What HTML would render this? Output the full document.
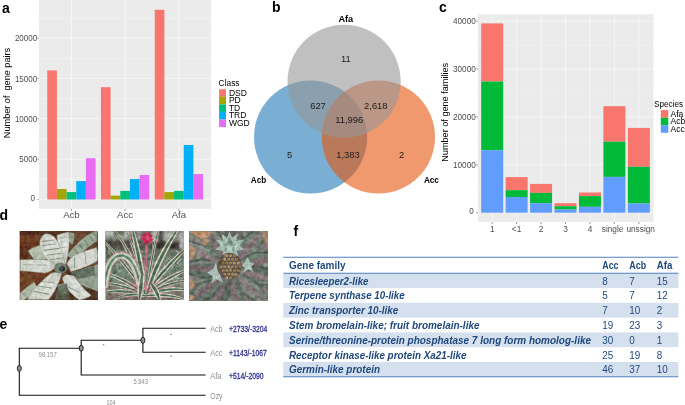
<!DOCTYPE html>
<html lang="en"><head><meta charset="utf-8"><title>Figure</title>
<style>html,body{margin:0;padding:0;background:#fff;}svg{display:block;}text{font-family:"Liberation Sans", Arial, sans-serif;}</style></head><body>
<svg width="685" height="405" viewBox="0 0 685 405">
<rect width="685" height="405" fill="#ffffff"/>
<g id="panel-a">
<rect x="39.0" y="0.0" width="172.0" height="208.8" fill="#ebebeb"/>
<line x1="39.0" x2="211.0" y1="179.20" y2="179.20" stroke="#f5f5f5" stroke-width="0.5"/>
<line x1="39.0" x2="211.0" y1="139.20" y2="139.20" stroke="#f5f5f5" stroke-width="0.5"/>
<line x1="39.0" x2="211.0" y1="98.50" y2="98.50" stroke="#f5f5f5" stroke-width="0.5"/>
<line x1="39.0" x2="211.0" y1="58.30" y2="58.30" stroke="#f5f5f5" stroke-width="0.5"/>
<line x1="39.0" x2="211.0" y1="18.10" y2="18.10" stroke="#f5f5f5" stroke-width="0.5"/>
<line x1="39.0" x2="211.0" y1="199.30" y2="199.30" stroke="#fafafa" stroke-width="0.75"/>
<line x1="37.5" x2="39.0" y1="199.30" y2="199.30" stroke="#555" stroke-width="0.6"/>
<text x="35.1" y="201.00" font-size="8.7" fill="#4d4d4d" text-anchor="end" textLength="4.5" lengthAdjust="spacingAndGlyphs">0</text>
<line x1="39.0" x2="211.0" y1="159.30" y2="159.30" stroke="#fafafa" stroke-width="0.75"/>
<line x1="37.5" x2="39.0" y1="159.30" y2="159.30" stroke="#555" stroke-width="0.6"/>
<text x="37.1" y="162.00" font-size="8.7" fill="#4d4d4d" text-anchor="end" textLength="17.8" lengthAdjust="spacingAndGlyphs">5000</text>
<line x1="39.0" x2="211.0" y1="118.60" y2="118.60" stroke="#fafafa" stroke-width="0.75"/>
<line x1="37.5" x2="39.0" y1="118.60" y2="118.60" stroke="#555" stroke-width="0.6"/>
<text x="37.1" y="121.70" font-size="8.7" fill="#4d4d4d" text-anchor="end" textLength="22.2" lengthAdjust="spacingAndGlyphs">10000</text>
<line x1="39.0" x2="211.0" y1="78.40" y2="78.40" stroke="#fafafa" stroke-width="0.75"/>
<line x1="37.5" x2="39.0" y1="78.40" y2="78.40" stroke="#555" stroke-width="0.6"/>
<text x="37.1" y="81.50" font-size="8.7" fill="#4d4d4d" text-anchor="end" textLength="22.2" lengthAdjust="spacingAndGlyphs">15000</text>
<line x1="39.0" x2="211.0" y1="38.20" y2="38.20" stroke="#fafafa" stroke-width="0.75"/>
<line x1="37.5" x2="39.0" y1="38.20" y2="38.20" stroke="#555" stroke-width="0.6"/>
<text x="37.1" y="41.20" font-size="8.7" fill="#4d4d4d" text-anchor="end" textLength="22.2" lengthAdjust="spacingAndGlyphs">20000</text>
<line x1="71.40" x2="71.40" y1="0.0" y2="208.8" stroke="#fafafa" stroke-width="0.75"/>
<line x1="71.40" x2="71.40" y1="208.8" y2="210.8" stroke="#555" stroke-width="0.6"/>
<line x1="125.10" x2="125.10" y1="0.0" y2="208.8" stroke="#fafafa" stroke-width="0.75"/>
<line x1="125.10" x2="125.10" y1="208.8" y2="210.8" stroke="#555" stroke-width="0.6"/>
<line x1="178.90" x2="178.90" y1="0.0" y2="208.8" stroke="#fafafa" stroke-width="0.75"/>
<line x1="178.90" x2="178.90" y1="208.8" y2="210.8" stroke="#555" stroke-width="0.6"/>
<rect x="47.25" y="70.40" width="9.66" height="129.10" fill="#F8766D"/>
<rect x="56.91" y="189.00" width="9.66" height="10.50" fill="#A3A500"/>
<rect x="66.57" y="192.10" width="9.66" height="7.40" fill="#00BF7D"/>
<rect x="76.23" y="181.10" width="9.66" height="18.40" fill="#00B0F6"/>
<rect x="85.89" y="158.30" width="9.66" height="41.20" fill="#E76BF3"/>
<rect x="100.95" y="87.20" width="9.66" height="112.30" fill="#F8766D"/>
<rect x="110.61" y="195.60" width="9.66" height="3.90" fill="#A3A500"/>
<rect x="120.27" y="190.90" width="9.66" height="8.60" fill="#00BF7D"/>
<rect x="129.93" y="179.00" width="9.66" height="20.50" fill="#00B0F6"/>
<rect x="139.59" y="175.00" width="9.66" height="24.50" fill="#E76BF3"/>
<rect x="154.75" y="9.80" width="9.66" height="189.70" fill="#F8766D"/>
<rect x="164.41" y="192.10" width="9.66" height="7.40" fill="#A3A500"/>
<rect x="174.07" y="190.90" width="9.66" height="8.60" fill="#00BF7D"/>
<rect x="183.73" y="145.00" width="9.66" height="54.50" fill="#00B0F6"/>
<rect x="193.39" y="174.10" width="9.66" height="25.40" fill="#E76BF3"/>
<text x="71.4" y="218.2" font-size="9.6" fill="#4d4d4d" text-anchor="middle">Acb</text>
<text x="125.1" y="218.2" font-size="9.6" fill="#4d4d4d" text-anchor="middle">Acc</text>
<text x="178.9" y="218.2" font-size="9.6" fill="#4d4d4d" text-anchor="middle">Afa</text>
<text transform="translate(10.3,93) rotate(-90)" font-size="9.15" fill="#000" text-anchor="middle" xml:space="preserve">Number of  gene pairs</text>
<text x="218.6" y="85.8" font-size="8.4" fill="#000">Class</text>
<rect x="219.1" y="89.30" width="6.9" height="7.55" fill="#F8766D"/>
<text x="228.9" y="95.80" font-size="8.5" fill="#000">DSD</text>
<rect x="219.1" y="96.85" width="6.9" height="7.55" fill="#A3A500"/>
<text x="228.9" y="103.35" font-size="8.5" fill="#000">PD</text>
<rect x="219.1" y="104.40" width="6.9" height="7.55" fill="#00BF7D"/>
<text x="228.9" y="110.90" font-size="8.5" fill="#000">TD</text>
<rect x="219.1" y="111.95" width="6.9" height="7.55" fill="#00B0F6"/>
<text x="228.9" y="118.45" font-size="8.5" fill="#000">TRD</text>
<rect x="219.1" y="119.50" width="6.9" height="7.55" fill="#E76BF3"/>
<text x="228.9" y="126.00" font-size="8.5" fill="#000">WGD</text>
<text x="2.0" y="12.7" font-size="14" font-weight="bold" fill="#000">a</text>
</g>
<g id="panel-b">
<circle cx="310.6" cy="137" r="56.6" fill="#2a7db8" fill-opacity="0.62"/>
<circle cx="378.4" cy="137" r="56.6" fill="#e6550d" fill-opacity="0.6"/>
<circle cx="344.1" cy="81.3" r="56.6" fill="#969696" fill-opacity="0.6"/>
<text x="345.9" y="61.8" font-size="9.4" fill="#1c1c1c" text-anchor="middle">11</text>
<text x="318.0" y="109.4" font-size="9.4" fill="#1c1c1c" text-anchor="middle">627</text>
<text x="375.8" y="109.4" font-size="9.4" fill="#1c1c1c" text-anchor="middle">2,618</text>
<text x="349.2" y="123.4" font-size="9.4" fill="#1c1c1c" text-anchor="middle">11,996</text>
<text x="289.6" y="157.6" font-size="9.4" fill="#1c1c1c" text-anchor="middle">5</text>
<text x="348.0" y="157.6" font-size="9.4" fill="#1c1c1c" text-anchor="middle">1,383</text>
<text x="401.5" y="157.6" font-size="9.4" fill="#1c1c1c" text-anchor="middle">2</text>
<text x="345.8" y="21.6" font-size="9.2" fill="#000" text-anchor="middle" font-weight="bold">Afa</text>
<text x="258.6" y="183.0" font-size="8.2" fill="#000" text-anchor="middle" font-weight="bold">Acb</text>
<text x="431.4" y="183.0" font-size="8.2" fill="#000" text-anchor="middle" font-weight="bold">Acc</text>
<text x="271.9" y="12" font-size="14" font-weight="bold" fill="#000">b</text>
</g>
<g id="panel-c">
<rect x="478.0" y="14.2" width="175.5" height="207.8" fill="#ebebeb"/>
<line x1="478.0" x2="653.5" y1="188.75" y2="188.75" stroke="#f5f5f5" stroke-width="0.5"/>
<line x1="478.0" x2="653.5" y1="140.85" y2="140.85" stroke="#f5f5f5" stroke-width="0.5"/>
<line x1="478.0" x2="653.5" y1="92.95" y2="92.95" stroke="#f5f5f5" stroke-width="0.5"/>
<line x1="478.0" x2="653.5" y1="45.05" y2="45.05" stroke="#f5f5f5" stroke-width="0.5"/>
<line x1="478.0" x2="653.5" y1="212.70" y2="212.70" stroke="#fafafa" stroke-width="0.75"/>
<line x1="476.3" x2="478.0" y1="212.70" y2="212.70" stroke="#555" stroke-width="0.6"/>
<text x="473.7" y="214.10" font-size="8.8" fill="#4d4d4d" text-anchor="end" textLength="4.5" lengthAdjust="spacingAndGlyphs">0</text>
<line x1="478.0" x2="653.5" y1="164.80" y2="164.80" stroke="#fafafa" stroke-width="0.75"/>
<line x1="476.3" x2="478.0" y1="164.80" y2="164.80" stroke="#555" stroke-width="0.6"/>
<text x="475.8" y="167.60" font-size="8.8" fill="#4d4d4d" text-anchor="end" textLength="22.8" lengthAdjust="spacingAndGlyphs">10000</text>
<line x1="478.0" x2="653.5" y1="116.90" y2="116.90" stroke="#fafafa" stroke-width="0.75"/>
<line x1="476.3" x2="478.0" y1="116.90" y2="116.90" stroke="#555" stroke-width="0.6"/>
<text x="475.8" y="119.70" font-size="8.8" fill="#4d4d4d" text-anchor="end" textLength="22.8" lengthAdjust="spacingAndGlyphs">20000</text>
<line x1="478.0" x2="653.5" y1="69.00" y2="69.00" stroke="#fafafa" stroke-width="0.75"/>
<line x1="476.3" x2="478.0" y1="69.00" y2="69.00" stroke="#555" stroke-width="0.6"/>
<text x="475.8" y="71.80" font-size="8.8" fill="#4d4d4d" text-anchor="end" textLength="22.8" lengthAdjust="spacingAndGlyphs">30000</text>
<line x1="478.0" x2="653.5" y1="21.10" y2="21.10" stroke="#fafafa" stroke-width="0.75"/>
<line x1="476.3" x2="478.0" y1="21.10" y2="21.10" stroke="#555" stroke-width="0.6"/>
<text x="475.8" y="23.90" font-size="8.8" fill="#4d4d4d" text-anchor="end" textLength="22.8" lengthAdjust="spacingAndGlyphs">40000</text>
<line x1="492.20" x2="492.20" y1="14.2" y2="222.0" stroke="#fafafa" stroke-width="0.75"/>
<line x1="492.20" x2="492.20" y1="222.0" y2="224.0" stroke="#555" stroke-width="0.6"/>
<line x1="516.64" x2="516.64" y1="14.2" y2="222.0" stroke="#fafafa" stroke-width="0.75"/>
<line x1="516.64" x2="516.64" y1="222.0" y2="224.0" stroke="#555" stroke-width="0.6"/>
<line x1="541.08" x2="541.08" y1="14.2" y2="222.0" stroke="#fafafa" stroke-width="0.75"/>
<line x1="541.08" x2="541.08" y1="222.0" y2="224.0" stroke="#555" stroke-width="0.6"/>
<line x1="565.52" x2="565.52" y1="14.2" y2="222.0" stroke="#fafafa" stroke-width="0.75"/>
<line x1="565.52" x2="565.52" y1="222.0" y2="224.0" stroke="#555" stroke-width="0.6"/>
<line x1="589.96" x2="589.96" y1="14.2" y2="222.0" stroke="#fafafa" stroke-width="0.75"/>
<line x1="589.96" x2="589.96" y1="222.0" y2="224.0" stroke="#555" stroke-width="0.6"/>
<line x1="614.40" x2="614.40" y1="14.2" y2="222.0" stroke="#fafafa" stroke-width="0.75"/>
<line x1="614.40" x2="614.40" y1="222.0" y2="224.0" stroke="#555" stroke-width="0.6"/>
<line x1="638.84" x2="638.84" y1="14.2" y2="222.0" stroke="#fafafa" stroke-width="0.75"/>
<line x1="638.84" x2="638.84" y1="222.0" y2="224.0" stroke="#555" stroke-width="0.6"/>
<rect x="481.20" y="23.40" width="22.00" height="58.10" fill="#F8766D"/>
<rect x="481.20" y="81.50" width="22.00" height="68.70" fill="#00BA38"/>
<rect x="481.20" y="150.20" width="22.00" height="62.50" fill="#619CFF"/>
<rect x="505.64" y="177.10" width="22.00" height="13.10" fill="#F8766D"/>
<rect x="505.64" y="190.20" width="22.00" height="6.80" fill="#00BA38"/>
<rect x="505.64" y="197.00" width="22.00" height="15.70" fill="#619CFF"/>
<rect x="530.08" y="183.90" width="22.00" height="9.00" fill="#F8766D"/>
<rect x="530.08" y="192.90" width="22.00" height="10.30" fill="#00BA38"/>
<rect x="530.08" y="203.20" width="22.00" height="9.50" fill="#619CFF"/>
<rect x="554.52" y="203.20" width="22.00" height="3.00" fill="#F8766D"/>
<rect x="554.52" y="206.20" width="22.00" height="3.30" fill="#00BA38"/>
<rect x="554.52" y="209.50" width="22.00" height="3.20" fill="#619CFF"/>
<rect x="578.96" y="192.50" width="22.00" height="3.60" fill="#F8766D"/>
<rect x="578.96" y="196.10" width="22.00" height="10.70" fill="#00BA38"/>
<rect x="578.96" y="206.80" width="22.00" height="5.90" fill="#619CFF"/>
<rect x="603.40" y="106.20" width="22.00" height="35.50" fill="#F8766D"/>
<rect x="603.40" y="141.70" width="22.00" height="35.20" fill="#00BA38"/>
<rect x="603.40" y="176.90" width="22.00" height="35.80" fill="#619CFF"/>
<rect x="627.84" y="127.90" width="22.00" height="38.90" fill="#F8766D"/>
<rect x="627.84" y="166.80" width="22.00" height="36.70" fill="#00BA38"/>
<rect x="627.84" y="203.50" width="22.00" height="9.20" fill="#619CFF"/>
<text x="492.2" y="231.7" font-size="8.3" fill="#4d4d4d" text-anchor="middle">1</text>
<text x="516.6" y="231.7" font-size="8.3" fill="#4d4d4d" text-anchor="middle">&lt;1</text>
<text x="541.1" y="231.7" font-size="8.3" fill="#4d4d4d" text-anchor="middle">2</text>
<text x="565.5" y="231.7" font-size="8.3" fill="#4d4d4d" text-anchor="middle">3</text>
<text x="590.0" y="231.7" font-size="8.3" fill="#4d4d4d" text-anchor="middle">4</text>
<text x="612.6" y="231.7" font-size="8.3" fill="#4d4d4d" text-anchor="middle">single</text>
<text x="640.7" y="231.7" font-size="8.3" fill="#4d4d4d" text-anchor="middle">unssign</text>
<text transform="translate(448.1,112.3) rotate(-90)" font-size="9.13" fill="#000" text-anchor="middle">Number of gene families</text>
<text x="654.0" y="107.2" font-size="8.4" fill="#000" textLength="29" lengthAdjust="spacingAndGlyphs">Species</text>
<rect x="660.8" y="110.10" width="7.5" height="7.55" fill="#F8766D"/>
<text x="670.5" y="116.70" font-size="8.5" fill="#000">Afa</text>
<rect x="660.8" y="117.65" width="7.5" height="7.55" fill="#00BA38"/>
<text x="670.5" y="124.25" font-size="8.5" fill="#000">Acb</text>
<rect x="660.8" y="125.20" width="7.5" height="7.55" fill="#619CFF"/>
<text x="670.5" y="131.80" font-size="8.5" fill="#000">Acc</text>
<text x="439.1" y="12" font-size="14" font-weight="bold" fill="#000">c</text>
</g>
<g id="panel-d">
<text x="-0.5" y="220.2" font-size="14" font-weight="bold" fill="#000">d</text>
<defs><filter id="bl" x="-5%" y="-5%" width="110%" height="110%"><feGaussianBlur stdDeviation="2.2"/></filter><filter id="bl2" x="-5%" y="-5%" width="110%" height="110%"><feGaussianBlur stdDeviation="1.4"/></filter><filter id="nzd" x="0" y="0" width="100%" height="100%"><feTurbulence type="fractalNoise" baseFrequency="0.045" numOctaves="3" seed="4"/><feColorMatrix values="0 0 0 0 0  0 0 0 0 0  0 0 0 0 0  0.9 0.9 0 0 -0.62"/></filter><filter id="nzl" x="0" y="0" width="100%" height="100%"><feTurbulence type="fractalNoise" baseFrequency="0.05" numOctaves="3" seed="9"/><feColorMatrix values="0 0 0 0 1  0 0 0 0 1  0 0 0 0 1  0.9 0.9 0 0 -0.68"/></filter></defs>
<svg x="19.6" y="231.1" width="78.4" height="69.0" viewBox="22 25 398 350" preserveAspectRatio="none" overflow="hidden">
<defs><filter id="b1" x="-5%" y="-5%" width="110%" height="110%"><feGaussianBlur stdDeviation="3.5"/></filter><radialGradient id="lg1" cx="235" cy="215" r="200" gradientUnits="userSpaceOnUse"><stop offset="0" stop-color="#9eab98"/><stop offset="0.22" stop-color="#d3d8cd"/><stop offset="0.6" stop-color="#e6e8e1"/><stop offset="1" stop-color="#dadfd4"/></radialGradient></defs>
<rect x="22" y="25" width="398" height="350" fill="#63331a"/>
<g filter="url(#b1)">
<rect x="22" y="25" width="110" height="150" fill="#6a3415"/>
<rect x="22" y="25" width="398" height="22" fill="#4e2812"/>
<rect x="22" y="100" width="60" height="70" fill="#5a2c14"/>
<rect x="22" y="228" width="160" height="100" fill="#6c381a"/>
<rect x="30" y="250" width="60" height="40" fill="#70401f"/>
<rect x="190" y="300" width="230" height="80" fill="#4c2e1d"/>
<rect x="270" y="25" width="150" height="90" fill="#5e3c28"/>
<rect x="300" y="25" width="60" height="40" fill="#6b4128"/>
<path d="M64 125C90 108 115 98 132 98L162 166C140 172 115 172 96 170Z" fill="#bcc7b4" stroke="#8d9b88" stroke-width="3.5" stroke-opacity="0.7"/>
<path d="M25 340C50 315 75 296 97 284L114 325C85 345 60 365 45 374L25 374Z" fill="#b5c1ad" stroke="#8d9b88" stroke-width="3.5" stroke-opacity="0.7"/>
<path d="M300 232C340 220 390 205 420 195L420 330C390 318 350 305 325 292Z" fill="#97a692" stroke="#8d9b88" stroke-width="3.5" stroke-opacity="0.7"/>
<path d="M272 32L298 36C302 60 296 80 290 92L270 82Z" fill="#9aaa90" stroke="#8d9b88" stroke-width="3.5" stroke-opacity="0.7"/>
<path d="M262 150C305 90 365 40 416 22L414 76C372 100 332 138 300 170Z" fill="#a5b39e" stroke="#8d9b88" stroke-width="3.5" stroke-opacity="0.7"/>
<path d="M215 300L250 290L264 342L230 352Z" fill="#a9b5a1" stroke="#8d9b88" stroke-width="3.5" stroke-opacity="0.7"/>
<path d="M232 175C222 120 212 70 212 45L270 28C278 70 272 130 258 190Z" fill="url(#lg1)" stroke="#8d9b88" stroke-width="3.5" stroke-opacity="0.7"/>
<path d="M236 218C200 215 150 170 128 110C118 80 130 50 150 40C175 35 200 50 215 80C235 120 255 170 252 200Z" fill="url(#lg1)" stroke="#8d9b88" stroke-width="3.5" stroke-opacity="0.7"/>
<path d="M262 190C280 150 320 135 412 108C420 130 420 160 415 178C380 200 330 218 282 230Z" fill="url(#lg1)" stroke="#8d9b88" stroke-width="3.5" stroke-opacity="0.7"/>
<path d="M25 172C70 168 130 168 165 172C190 180 205 195 208 205C190 225 170 235 150 238C100 232 60 228 25 226Z" fill="url(#lg1)" stroke="#8d9b88" stroke-width="3.5" stroke-opacity="0.7"/>
<path d="M180 240C200 232 222 232 236 238C225 280 210 320 170 372L62 372C80 330 130 280 180 240Z" fill="url(#lg1)" stroke="#8d9b88" stroke-width="3.5" stroke-opacity="0.7"/>
<path d="M238 262C255 245 280 238 295 242C320 290 350 320 385 350C370 365 345 372 325 374C290 350 255 320 238 262Z" fill="url(#lg1)" stroke="#8d9b88" stroke-width="3.5" stroke-opacity="0.7"/>
<line x1="132" y1="78" x2="196" y2="70" stroke="#6f8569" stroke-width="5" opacity="0.75"/>
<line x1="136" y1="98" x2="210" y2="90" stroke="#6f8569" stroke-width="5" opacity="0.75"/>
<line x1="146" y1="122" x2="224" y2="113" stroke="#6f8569" stroke-width="6" opacity="0.75"/>
<line x1="156" y1="148" x2="234" y2="138" stroke="#6f8569" stroke-width="5" opacity="0.75"/>
<line x1="172" y1="172" x2="246" y2="160" stroke="#6f8569" stroke-width="5" opacity="0.75"/>
<line x1="96" y1="330" x2="172" y2="346" stroke="#6f8569" stroke-width="6" opacity="0.75"/>
<line x1="108" y1="302" x2="186" y2="314" stroke="#6f8569" stroke-width="5" opacity="0.75"/>
<line x1="130" y1="280" x2="200" y2="288" stroke="#6f8569" stroke-width="4" opacity="0.75"/>
<line x1="300" y1="158" x2="302" y2="214" stroke="#6f8569" stroke-width="5" opacity="0.75"/>
<line x1="352" y1="125" x2="360" y2="190" stroke="#6f8569" stroke-width="4" opacity="0.75"/>
<line x1="299" y1="114" x2="321" y2="142" stroke="#6f8569" stroke-width="9" opacity="0.75"/>
<line x1="324" y1="91" x2="346" y2="119" stroke="#6f8569" stroke-width="9" opacity="0.75"/>
<line x1="349" y1="70" x2="371" y2="98" stroke="#6f8569" stroke-width="9" opacity="0.75"/>
<line x1="374" y1="48" x2="396" y2="76" stroke="#6f8569" stroke-width="9" opacity="0.75"/>
<line x1="394" y1="32" x2="416" y2="60" stroke="#6f8569" stroke-width="9" opacity="0.75"/>
<line x1="40" y1="195" x2="160" y2="198" stroke="#6f8569" stroke-width="3" opacity="0.75"/>
<line x1="255" y1="300" x2="330" y2="340" stroke="#6f8569" stroke-width="4" opacity="0.75"/>
<line x1="225" y1="60" x2="262" y2="55" stroke="#6f8569" stroke-width="3" opacity="0.75"/>
<line x1="228" y1="110" x2="266" y2="104" stroke="#6f8569" stroke-width="3" opacity="0.75"/>
<path d="M285 232L400 205L405 250L320 268Z" fill="#4f5d50" opacity="0.75"/>
<path d="M215 305L262 290L275 372L205 372Z" fill="#55604f" opacity="0.8"/>
<ellipse cx="230" cy="212" rx="34" ry="27" fill="#73836f"/>
<ellipse cx="238" cy="216" rx="16" ry="14" fill="#2c3630"/>
<path d="M258 228Q296 236 300 252L268 246Z" fill="#36362c"/>
</g><rect x="22" y="25" width="398" height="350" filter="url(#nzd)" opacity="0.25"/><rect x="22" y="25" width="398" height="350" filter="url(#nzl)" opacity="0.25"/></svg>
<svg x="105.3" y="231.1" width="78.6" height="69.0" viewBox="25 25 397 352" preserveAspectRatio="none" overflow="hidden">
<defs><linearGradient id="g2" x1="0" y1="0" x2="0" y2="1"><stop offset="0" stop-color="#6d6b65"/><stop offset="0.2" stop-color="#56534c"/><stop offset="0.30" stop-color="#667060"/><stop offset="0.6" stop-color="#6f8a76"/><stop offset="0.8" stop-color="#7c8674"/><stop offset="1" stop-color="#7d6b66"/></linearGradient><filter id="b2" x="-5%" y="-5%" width="110%" height="110%"><feGaussianBlur stdDeviation="5"/></filter><filter id="b2s" x="-5%" y="-5%" width="110%" height="110%"><feGaussianBlur stdDeviation="1.8"/></filter></defs>
<rect x="25" y="25" width="397" height="352" fill="url(#g2)"/>
<g filter="url(#b2)">
<rect x="25" y="25" width="45" height="22" fill="#cfd5cf"/>
<rect x="25" y="45" width="120" height="25" fill="#8d9688"/>
<rect x="70" y="25" width="50" height="25" fill="#66745f"/>
<rect x="120" y="25" width="35" height="45" fill="#bdbdb9"/>
<rect x="152" y="25" width="30" height="75" fill="#4b4a46"/>
<rect x="182" y="25" width="25" height="50" fill="#9a9a96"/>
<rect x="255" y="25" width="38" height="55" fill="#c5c7c4"/>
<rect x="293" y="25" width="25" height="85" fill="#444440"/>
<rect x="320" y="25" width="50" height="45" fill="#b8bab6"/>
<rect x="372" y="25" width="50" height="60" fill="#8c8e8a"/>
<rect x="25" y="68" width="130" height="42" fill="#4d463d"/>
<rect x="182" y="70" width="30" height="40" fill="#5a5650"/>
<rect x="255" y="80" width="167" height="34" fill="#2f2a25"/>
<rect x="402" y="30" width="20" height="85" fill="#d2d2ce"/>
<rect x="330" y="68" width="60" height="16" fill="#77706a"/>
</g><g filter="url(#b2s)" opacity="0.85">
<line x1="205" y1="219" x2="230" y2="221" stroke="#4d6350" stroke-width="5" stroke-linecap="round"/>
<line x1="378" y1="232" x2="373" y2="210" stroke="#4d6350" stroke-width="5" stroke-linecap="round"/>
<line x1="355" y1="127" x2="364" y2="151" stroke="#3f5443" stroke-width="4" stroke-linecap="round"/>
<line x1="142" y1="116" x2="152" y2="135" stroke="#a9bdac" stroke-width="5" stroke-linecap="round"/>
<line x1="53" y1="257" x2="74" y2="262" stroke="#b9c9ba" stroke-width="6" stroke-linecap="round"/>
<line x1="25" y1="154" x2="-4" y2="138" stroke="#d5dcd0" stroke-width="4" stroke-linecap="round"/>
<line x1="250" y1="152" x2="256" y2="139" stroke="#d5dcd0" stroke-width="5" stroke-linecap="round"/>
<line x1="72" y1="161" x2="98" y2="145" stroke="#4d6350" stroke-width="5" stroke-linecap="round"/>
<line x1="100" y1="209" x2="107" y2="188" stroke="#d5dcd0" stroke-width="3" stroke-linecap="round"/>
<line x1="410" y1="264" x2="426" y2="273" stroke="#d5dcd0" stroke-width="6" stroke-linecap="round"/>
<line x1="83" y1="197" x2="92" y2="226" stroke="#d5dcd0" stroke-width="3" stroke-linecap="round"/>
<line x1="61" y1="223" x2="78" y2="236" stroke="#3f5443" stroke-width="3" stroke-linecap="round"/>
<line x1="258" y1="269" x2="280" y2="253" stroke="#5f7a63" stroke-width="6" stroke-linecap="round"/>
<line x1="350" y1="161" x2="372" y2="185" stroke="#c9d4c6" stroke-width="5" stroke-linecap="round"/>
<line x1="44" y1="135" x2="43" y2="106" stroke="#d5dcd0" stroke-width="4" stroke-linecap="round"/>
<line x1="352" y1="225" x2="367" y2="201" stroke="#a9bdac" stroke-width="3" stroke-linecap="round"/>
<line x1="215" y1="236" x2="244" y2="221" stroke="#b9c9ba" stroke-width="3" stroke-linecap="round"/>
<line x1="137" y1="213" x2="121" y2="208" stroke="#3f5443" stroke-width="6" stroke-linecap="round"/>
<line x1="81" y1="121" x2="89" y2="148" stroke="#b9c9ba" stroke-width="3" stroke-linecap="round"/>
<line x1="278" y1="204" x2="291" y2="211" stroke="#8fa892" stroke-width="5" stroke-linecap="round"/>
<line x1="382" y1="251" x2="410" y2="235" stroke="#8fa892" stroke-width="3" stroke-linecap="round"/>
<line x1="213" y1="129" x2="191" y2="120" stroke="#b9c9ba" stroke-width="5" stroke-linecap="round"/>
<line x1="177" y1="223" x2="192" y2="253" stroke="#d5dcd0" stroke-width="5" stroke-linecap="round"/>
<line x1="179" y1="251" x2="173" y2="221" stroke="#a9bdac" stroke-width="5" stroke-linecap="round"/>
<line x1="34" y1="292" x2="48" y2="315" stroke="#3f5443" stroke-width="4" stroke-linecap="round"/>
<line x1="29" y1="171" x2="22" y2="155" stroke="#8fa892" stroke-width="5" stroke-linecap="round"/>
<line x1="200" y1="280" x2="217" y2="288" stroke="#d5dcd0" stroke-width="5" stroke-linecap="round"/>
<line x1="325" y1="152" x2="347" y2="128" stroke="#c9d4c6" stroke-width="3" stroke-linecap="round"/>
<line x1="222" y1="270" x2="242" y2="244" stroke="#5f7a63" stroke-width="5" stroke-linecap="round"/>
<line x1="70" y1="202" x2="79" y2="183" stroke="#3f5443" stroke-width="5" stroke-linecap="round"/>
<line x1="309" y1="271" x2="300" y2="242" stroke="#5f7a63" stroke-width="6" stroke-linecap="round"/>
<line x1="41" y1="246" x2="36" y2="217" stroke="#b9c9ba" stroke-width="5" stroke-linecap="round"/>
<line x1="186" y1="150" x2="210" y2="167" stroke="#a9bdac" stroke-width="4" stroke-linecap="round"/>
<line x1="275" y1="236" x2="282" y2="219" stroke="#3f5443" stroke-width="4" stroke-linecap="round"/>
<line x1="309" y1="255" x2="307" y2="236" stroke="#8fa892" stroke-width="5" stroke-linecap="round"/>
<line x1="401" y1="208" x2="371" y2="199" stroke="#c9d4c6" stroke-width="3" stroke-linecap="round"/>
<line x1="395" y1="249" x2="417" y2="233" stroke="#b9c9ba" stroke-width="4" stroke-linecap="round"/>
<line x1="251" y1="278" x2="268" y2="261" stroke="#c9d4c6" stroke-width="3" stroke-linecap="round"/>
<line x1="369" y1="263" x2="352" y2="254" stroke="#d5dcd0" stroke-width="6" stroke-linecap="round"/>
<line x1="413" y1="214" x2="391" y2="191" stroke="#b9c9ba" stroke-width="4" stroke-linecap="round"/>
<line x1="58" y1="197" x2="81" y2="193" stroke="#b9c9ba" stroke-width="4" stroke-linecap="round"/>
<line x1="369" y1="194" x2="379" y2="220" stroke="#4d6350" stroke-width="4" stroke-linecap="round"/>
<line x1="422" y1="282" x2="445" y2="281" stroke="#3f5443" stroke-width="5" stroke-linecap="round"/>
<line x1="299" y1="255" x2="329" y2="260" stroke="#4d6350" stroke-width="5" stroke-linecap="round"/>
<line x1="360" y1="219" x2="374" y2="191" stroke="#c9d4c6" stroke-width="4" stroke-linecap="round"/>
<line x1="81" y1="216" x2="93" y2="197" stroke="#a9bdac" stroke-width="5" stroke-linecap="round"/>
<line x1="265" y1="120" x2="264" y2="90" stroke="#a9bdac" stroke-width="4" stroke-linecap="round"/>
<line x1="189" y1="292" x2="168" y2="281" stroke="#4d6350" stroke-width="4" stroke-linecap="round"/>
<line x1="383" y1="288" x2="390" y2="274" stroke="#d5dcd0" stroke-width="5" stroke-linecap="round"/>
<line x1="392" y1="139" x2="380" y2="126" stroke="#c9d4c6" stroke-width="3" stroke-linecap="round"/>
<line x1="138" y1="249" x2="153" y2="230" stroke="#a9bdac" stroke-width="6" stroke-linecap="round"/>
<line x1="273" y1="248" x2="250" y2="233" stroke="#4d6350" stroke-width="5" stroke-linecap="round"/>
<line x1="368" y1="214" x2="385" y2="195" stroke="#4d6350" stroke-width="4" stroke-linecap="round"/>
<line x1="319" y1="265" x2="302" y2="255" stroke="#c9d4c6" stroke-width="4" stroke-linecap="round"/>
<line x1="421" y1="279" x2="445" y2="263" stroke="#5f7a63" stroke-width="4" stroke-linecap="round"/>
<line x1="198" y1="289" x2="216" y2="287" stroke="#b9c9ba" stroke-width="3" stroke-linecap="round"/>
<line x1="251" y1="181" x2="276" y2="191" stroke="#8fa892" stroke-width="5" stroke-linecap="round"/>
<line x1="67" y1="122" x2="92" y2="119" stroke="#4d6350" stroke-width="4" stroke-linecap="round"/>
<line x1="71" y1="147" x2="92" y2="130" stroke="#b9c9ba" stroke-width="3" stroke-linecap="round"/>
<line x1="108" y1="184" x2="102" y2="167" stroke="#d5dcd0" stroke-width="4" stroke-linecap="round"/>
<line x1="319" y1="190" x2="336" y2="173" stroke="#b9c9ba" stroke-width="4" stroke-linecap="round"/>
<line x1="59" y1="271" x2="77" y2="244" stroke="#c9d4c6" stroke-width="5" stroke-linecap="round"/>
<line x1="415" y1="264" x2="438" y2="281" stroke="#4d6350" stroke-width="5" stroke-linecap="round"/>
<line x1="186" y1="281" x2="202" y2="256" stroke="#4d6350" stroke-width="4" stroke-linecap="round"/>
<line x1="312" y1="128" x2="318" y2="115" stroke="#8fa892" stroke-width="6" stroke-linecap="round"/>
<line x1="383" y1="124" x2="400" y2="135" stroke="#c9d4c6" stroke-width="5" stroke-linecap="round"/>
<line x1="422" y1="234" x2="451" y2="217" stroke="#b9c9ba" stroke-width="3" stroke-linecap="round"/>
<line x1="68" y1="159" x2="97" y2="163" stroke="#d5dcd0" stroke-width="3" stroke-linecap="round"/>
<line x1="128" y1="166" x2="148" y2="175" stroke="#a9bdac" stroke-width="5" stroke-linecap="round"/>
<line x1="346" y1="129" x2="361" y2="125" stroke="#4d6350" stroke-width="4" stroke-linecap="round"/>
<line x1="410" y1="273" x2="433" y2="271" stroke="#3f5443" stroke-width="4" stroke-linecap="round"/>
<line x1="138" y1="236" x2="134" y2="208" stroke="#5f7a63" stroke-width="3" stroke-linecap="round"/>
<line x1="332" y1="223" x2="322" y2="197" stroke="#b9c9ba" stroke-width="6" stroke-linecap="round"/>
<line x1="322" y1="124" x2="327" y2="110" stroke="#c9d4c6" stroke-width="4" stroke-linecap="round"/>
<line x1="215" y1="295" x2="240" y2="315" stroke="#3f5443" stroke-width="3" stroke-linecap="round"/>
<line x1="406" y1="160" x2="395" y2="141" stroke="#a9bdac" stroke-width="4" stroke-linecap="round"/>
<line x1="46" y1="213" x2="68" y2="197" stroke="#3f5443" stroke-width="5" stroke-linecap="round"/>
<line x1="320" y1="266" x2="334" y2="256" stroke="#3f5443" stroke-width="3" stroke-linecap="round"/>
<line x1="379" y1="260" x2="373" y2="242" stroke="#c9d4c6" stroke-width="5" stroke-linecap="round"/>
<line x1="324" y1="150" x2="350" y2="170" stroke="#b9c9ba" stroke-width="5" stroke-linecap="round"/>
<line x1="29" y1="163" x2="46" y2="157" stroke="#5f7a63" stroke-width="3" stroke-linecap="round"/>
<line x1="59" y1="240" x2="81" y2="237" stroke="#3f5443" stroke-width="4" stroke-linecap="round"/>
<line x1="370" y1="263" x2="401" y2="268" stroke="#c9d4c6" stroke-width="4" stroke-linecap="round"/>
<line x1="322" y1="187" x2="346" y2="168" stroke="#8fa892" stroke-width="4" stroke-linecap="round"/>
<line x1="326" y1="268" x2="344" y2="287" stroke="#3f5443" stroke-width="6" stroke-linecap="round"/>
<line x1="56" y1="130" x2="52" y2="103" stroke="#5f7a63" stroke-width="5" stroke-linecap="round"/>
<line x1="29" y1="172" x2="42" y2="148" stroke="#3f5443" stroke-width="5" stroke-linecap="round"/>
<line x1="301" y1="167" x2="323" y2="150" stroke="#8fa892" stroke-width="6" stroke-linecap="round"/>
<line x1="383" y1="242" x2="412" y2="260" stroke="#3f5443" stroke-width="4" stroke-linecap="round"/>
<line x1="184" y1="288" x2="165" y2="277" stroke="#8fa892" stroke-width="3" stroke-linecap="round"/>
<line x1="294" y1="223" x2="281" y2="205" stroke="#4d6350" stroke-width="6" stroke-linecap="round"/>
<line x1="248" y1="148" x2="236" y2="140" stroke="#b9c9ba" stroke-width="5" stroke-linecap="round"/>
<line x1="250" y1="294" x2="264" y2="288" stroke="#5f7a63" stroke-width="5" stroke-linecap="round"/>
<line x1="58" y1="130" x2="71" y2="121" stroke="#4d6350" stroke-width="3" stroke-linecap="round"/>
<line x1="349" y1="193" x2="332" y2="166" stroke="#8fa892" stroke-width="5" stroke-linecap="round"/>
<line x1="182" y1="177" x2="171" y2="155" stroke="#a9bdac" stroke-width="5" stroke-linecap="round"/>
<line x1="388" y1="191" x2="409" y2="168" stroke="#d5dcd0" stroke-width="6" stroke-linecap="round"/>
<line x1="378" y1="292" x2="404" y2="282" stroke="#a9bdac" stroke-width="4" stroke-linecap="round"/>
<line x1="192" y1="142" x2="175" y2="137" stroke="#c9d4c6" stroke-width="4" stroke-linecap="round"/>
<line x1="235" y1="166" x2="255" y2="167" stroke="#4d6350" stroke-width="5" stroke-linecap="round"/>
<line x1="96" y1="127" x2="128" y2="130" stroke="#b9c9ba" stroke-width="4" stroke-linecap="round"/>
<line x1="103" y1="181" x2="126" y2="176" stroke="#c9d4c6" stroke-width="4" stroke-linecap="round"/>
<line x1="380" y1="189" x2="393" y2="166" stroke="#3f5443" stroke-width="6" stroke-linecap="round"/>
<line x1="217" y1="189" x2="232" y2="183" stroke="#c9d4c6" stroke-width="4" stroke-linecap="round"/>
<line x1="111" y1="140" x2="133" y2="119" stroke="#5f7a63" stroke-width="5" stroke-linecap="round"/>
<line x1="48" y1="286" x2="65" y2="259" stroke="#3f5443" stroke-width="5" stroke-linecap="round"/>
<line x1="308" y1="227" x2="324" y2="214" stroke="#5f7a63" stroke-width="6" stroke-linecap="round"/>
<line x1="347" y1="139" x2="366" y2="125" stroke="#b9c9ba" stroke-width="3" stroke-linecap="round"/>
<line x1="331" y1="115" x2="351" y2="93" stroke="#a9bdac" stroke-width="4" stroke-linecap="round"/>
<line x1="269" y1="213" x2="255" y2="187" stroke="#5f7a63" stroke-width="3" stroke-linecap="round"/>
<line x1="100" y1="151" x2="120" y2="140" stroke="#b9c9ba" stroke-width="5" stroke-linecap="round"/>
<line x1="234" y1="144" x2="241" y2="130" stroke="#5f7a63" stroke-width="6" stroke-linecap="round"/>
<line x1="81" y1="239" x2="107" y2="225" stroke="#a9bdac" stroke-width="5" stroke-linecap="round"/>
<line x1="30" y1="185" x2="17" y2="163" stroke="#3f5443" stroke-width="5" stroke-linecap="round"/>
<line x1="365" y1="271" x2="379" y2="262" stroke="#d5dcd0" stroke-width="6" stroke-linecap="round"/>
<line x1="323" y1="292" x2="335" y2="282" stroke="#c9d4c6" stroke-width="4" stroke-linecap="round"/>
<line x1="315" y1="176" x2="327" y2="150" stroke="#8fa892" stroke-width="4" stroke-linecap="round"/>
<line x1="177" y1="134" x2="187" y2="148" stroke="#c9d4c6" stroke-width="4" stroke-linecap="round"/>
<line x1="357" y1="225" x2="372" y2="216" stroke="#a9bdac" stroke-width="4" stroke-linecap="round"/>
<line x1="331" y1="178" x2="342" y2="166" stroke="#c9d4c6" stroke-width="5" stroke-linecap="round"/>
<line x1="351" y1="186" x2="357" y2="173" stroke="#d5dcd0" stroke-width="5" stroke-linecap="round"/>
<line x1="151" y1="261" x2="171" y2="276" stroke="#5f7a63" stroke-width="4" stroke-linecap="round"/>
<line x1="175" y1="209" x2="186" y2="196" stroke="#5f7a63" stroke-width="5" stroke-linecap="round"/>
<line x1="308" y1="298" x2="339" y2="296" stroke="#c9d4c6" stroke-width="5" stroke-linecap="round"/>
<line x1="36" y1="237" x2="20" y2="219" stroke="#d5dcd0" stroke-width="5" stroke-linecap="round"/>
<line x1="156" y1="287" x2="162" y2="271" stroke="#4d6350" stroke-width="4" stroke-linecap="round"/>
<line x1="388" y1="146" x2="405" y2="134" stroke="#4d6350" stroke-width="3" stroke-linecap="round"/>
</g><g filter="url(#b2s)">
<path d="M230 342Q103 296 -35 347Q103 334 226 358Z" fill="#d08591"/>
<path d="M230 343Q103 299 -35 347Q103 331 226 357Z" fill="#e6e8da"/>
<path d="M229 347Q103 307 -35 347Q103 323 227 353Z" fill="#4a7250"/>
<path d="M231 358Q357 320 480 334Q355 282 225 342Z" fill="#d08591"/>
<path d="M231 357Q357 317 480 334Q355 285 225 343Z" fill="#e6e8da"/>
<path d="M229 353Q356 309 480 334Q356 293 227 347Z" fill="#4a7250"/>
<path d="M231 344Q119 276 -35 285Q111 308 225 356Z" fill="#d08591"/>
<path d="M231 345Q119 278 -35 285Q111 306 225 355Z" fill="#e6e8da"/>
<path d="M229 347Q117 285 -35 285Q113 299 227 353Z" fill="#4a7250"/>
<path d="M232 356Q350 297 480 274Q340 265 224 344Z" fill="#d08591"/>
<path d="M231 355Q349 294 480 274Q341 268 225 345Z" fill="#e6e8da"/>
<path d="M230 353Q347 288 480 274Q343 274 226 347Z" fill="#4a7250"/>
<path d="M233 344Q110 233 -35 226Q96 263 223 356Z" fill="#d08591"/>
<path d="M232 345Q109 235 -35 226Q97 261 224 355Z" fill="#e6e8da"/>
<path d="M230 348Q106 242 -35 226Q100 254 226 352Z" fill="#4a7250"/>
<path d="M233 356Q365 261 480 207Q347 227 223 344Z" fill="#d08591"/>
<path d="M232 355Q364 259 480 207Q348 229 224 345Z" fill="#e6e8da"/>
<path d="M230 353Q360 251 480 207Q352 237 226 347Z" fill="#4a7250"/>
<path d="M233 342Q127 156 -35 26Q103 176 223 348Z" fill="#d08591"/>
<path d="M232 342Q125 158 -35 26Q105 174 224 348Z" fill="#e6e8da"/>
<path d="M230 344Q120 162 -35 26Q110 170 226 346Z" fill="#4a7250"/>
<path d="M234 343Q186 136 29 -41Q158 150 222 347Z" fill="#d08591"/>
<path d="M233 344Q183 137 29 -41Q161 149 223 346Z" fill="#e6e8da"/>
<path d="M231 344Q178 140 29 -41Q166 146 225 346Z" fill="#4a7250"/>
<path d="M234 348Q324 172 376 16Q296 160 222 342Z" fill="#d08591"/>
<path d="M233 347Q322 171 376 16Q298 161 223 343Z" fill="#e6e8da"/>
<path d="M230 346Q316 169 376 16Q304 163 226 344Z" fill="#4a7250"/>
<path d="M235 350Q361 199 480 72Q329 169 221 340Z" fill="#d08591"/>
<path d="M234 350Q359 197 480 72Q331 171 222 340Z" fill="#e6e8da"/>
<path d="M231 347Q352 190 480 72Q338 178 225 343Z" fill="#4a7250"/>
<path d="M227 344Q215 162 92 -67Q189 170 217 346Z" fill="#d08591"/>
<path d="M226 345Q212 163 92 -67Q192 169 218 345Z" fill="#e6e8da"/>
<path d="M224 345Q207 165 92 -67Q197 167 220 345Z" fill="#4a7250"/>
<path d="M239 346Q271 157 309 -54Q245 153 229 344Z" fill="#d08591"/>
<path d="M238 346Q268 157 309 -54Q248 153 230 344Z" fill="#e6e8da"/>
<path d="M236 345Q263 156 309 -54Q253 154 232 345Z" fill="#4a7250"/>
<path d="M237 344Q225 150 140 -69Q175 160 215 346Z" fill="#d08591"/>
<path d="M235 344Q222 150 140 -69Q178 160 217 346Z" fill="#e6e8da"/>
<path d="M231 344Q211 153 140 -69Q189 157 221 346Z" fill="#4a7250"/>
<path d="M246 348Q318 143 451 -69Q272 121 226 342Z" fill="#d08591"/>
<path d="M245 348Q315 142 451 -69Q275 122 227 342Z" fill="#e6e8da"/>
<path d="M241 346Q305 137 451 -69Q285 127 231 344Z" fill="#4a7250"/>
<path d="M230 348Q148 316 46 383Q150 348 226 362Z" fill="#d08591"/>
<path d="M230 349Q148 319 46 383Q150 345 226 361Z" fill="#e6e8da"/>
<path d="M229 352Q148 325 46 383Q150 339 227 358Z" fill="#4a7250"/>
<path d="M229 362Q343 357 454 383Q347 323 227 348Z" fill="#d08591"/>
<path d="M229 361Q343 354 454 383Q347 326 227 349Z" fill="#e6e8da"/>
<path d="M228 358Q344 347 454 383Q346 333 228 352Z" fill="#4a7250"/>
<path d="M205 318Q170 130 88 152Q34 176 22 300" fill="none" stroke="#c9707e" stroke-width="40" stroke-linecap="round"/>
<path d="M205 318Q170 130 88 152Q34 176 22 300" fill="none" stroke="#d6e1d2" stroke-width="34" stroke-linecap="round"/>
<path d="M205 318Q170 130 88 152Q34 176 22 300" fill="none" stroke="#5f8a66" stroke-width="10" stroke-linecap="round"/>
<path d="M234 90L228 225" stroke="#de6f8c" stroke-width="12" fill="none"/>
<path d="M231 135L227 205" stroke="#8d6a9c" stroke-width="5" fill="none"/>
<polygon points="232,26 240,40 252,30 252,46 266,44 258,58 268,70 254,74 254,90 242,84 234,96 226,84 214,88 216,72 204,66 214,56 208,42 222,44" fill="#e02656"/>
<ellipse cx="238" cy="58" rx="10" ry="13" fill="#f0507a"/>
<line x1="207" y1="340" x2="157" y2="326" stroke="#c85670" stroke-width="4" stroke-linecap="round" opacity="0.8"/>
<line x1="209" y1="336" x2="166" y2="314" stroke="#c85670" stroke-width="4" stroke-linecap="round" opacity="0.8"/>
<line x1="211" y1="334" x2="150" y2="290" stroke="#c85670" stroke-width="4" stroke-linecap="round" opacity="0.8"/>
<line x1="213" y1="332" x2="170" y2="289" stroke="#c85670" stroke-width="4" stroke-linecap="round" opacity="0.8"/>
<line x1="217" y1="329" x2="197" y2="300" stroke="#c85670" stroke-width="4" stroke-linecap="round" opacity="0.8"/>
<line x1="221" y1="328" x2="195" y2="256" stroke="#c85670" stroke-width="4" stroke-linecap="round" opacity="0.8"/>
<line x1="228" y1="327" x2="229" y2="266" stroke="#c85670" stroke-width="4" stroke-linecap="round" opacity="0.8"/>
<line x1="231" y1="327" x2="240" y2="266" stroke="#c85670" stroke-width="4" stroke-linecap="round" opacity="0.8"/>
<line x1="237" y1="328" x2="259" y2="283" stroke="#c85670" stroke-width="4" stroke-linecap="round" opacity="0.8"/>
<line x1="240" y1="330" x2="284" y2="274" stroke="#c85670" stroke-width="4" stroke-linecap="round" opacity="0.8"/>
<line x1="242" y1="331" x2="274" y2="300" stroke="#c85670" stroke-width="4" stroke-linecap="round" opacity="0.8"/>
<line x1="246" y1="335" x2="284" y2="314" stroke="#c85670" stroke-width="4" stroke-linecap="round" opacity="0.8"/>
<line x1="248" y1="338" x2="310" y2="317" stroke="#c85670" stroke-width="4" stroke-linecap="round" opacity="0.8"/>
<path d="M198 249Q176 317 194 392Q232 323 222 251Z" fill="#d08591"/>
<path d="M200 249Q179 317 194 392Q229 323 220 251Z" fill="#e6e8da"/>
<path d="M205 250Q191 319 194 392Q217 321 215 250Z" fill="#4a7250"/>
<path d="M250 303Q268 346 304 395Q312 324 266 289Z" fill="#d08591"/>
<path d="M251 302Q271 345 304 395Q309 325 265 290Z" fill="#e6e8da"/>
<path d="M254 299Q280 340 304 395Q300 330 262 293Z" fill="#4a7250"/>
</g><rect x="25" y="25" width="397" height="352" filter="url(#nzd)" opacity="0.4"/><rect x="25" y="25" width="397" height="352" filter="url(#nzl)" opacity="0.3"/></svg>
<svg x="189.1" y="231.1" width="78.9" height="69.0" viewBox="27 25 395 352" preserveAspectRatio="none" overflow="hidden">
<defs><filter id="b3" x="-5%" y="-5%" width="110%" height="110%"><feGaussianBlur stdDeviation="4"/></filter><filter id="b3s" x="-5%" y="-5%" width="110%" height="110%"><feGaussianBlur stdDeviation="2"/></filter></defs>
<rect x="27" y="25" width="395" height="352" fill="#666a66"/>
<g filter="url(#b3)">
<polygon points="27,25 190,25 130,80 90,140 70,210 27,220" fill="#cf976e"/>
<polygon points="27,60 60,90 40,150 27,150" fill="#a8704c"/>
<polygon points="365,25 422,25 422,135 400,110" fill="#bb8866"/>
<polygon points="27,312 78,338 64,377 27,377" fill="#bd8560"/>
<polygon points="215,200 103,151 -84,151 84,234 206,241" fill="#46544a"/>
<polygon points="210,202 102,157 -74,154 85,228 201,237" fill="#6b7d6e"/>
<polygon points="197,211 96,180 -59,157 90,206 194,223" fill="#96687c" opacity="0.62"/>
<polygon points="198,188 100,162 -43,161 98,172 196,193" fill="#9aa699" opacity="0.75"/>
<polygon points="228,197 139,94 -37,-5 87,154 202,227" fill="#46544a"/>
<polygon points="222,196 135,99 -30,1 91,150 200,221" fill="#778678"/>
<polygon points="207,198 121,115 -17,12 105,134 200,207" fill="#a07587" opacity="0.62"/>
<polygon points="217,179 132,102 -4,24 126,110 214,182" fill="#a5b0a4" opacity="0.75"/>
<polygon points="243,201 227,68 143,-115 157,86 207,210" fill="#46544a"/>
<polygon points="238,197 221,69 145,-105 162,84 209,205" fill="#5f7063"/>
<polygon points="227,190 202,74 149,-88 181,79 216,192" fill="#8a6072" opacity="0.62"/>
<polygon points="243,180 217,70 154,-72 209,72 239,181" fill="#909a90" opacity="0.75"/>
<polygon points="254,212 310,107 334,-73 241,83 219,200" fill="#46544a"/>
<polygon points="253,207 305,105 331,-63 246,85 224,196" fill="#7f8d80"/>
<polygon points="247,194 286,99 326,-49 265,92 236,190" fill="#a98292" opacity="0.62"/>
<polygon points="266,195 301,104 321,-35 292,101 262,194" fill="#9aa699" opacity="0.75"/>
<polygon points="257,228 385,159 535,5 342,99 235,198" fill="#46544a"/>
<polygon points="259,223 382,154 527,11 345,103 241,198" fill="#6f7e70"/>
<polygon points="262,209 370,138 512,22 357,120 255,200" fill="#916a7b" opacity="0.62"/>
<polygon points="277,222 379,151 497,32 374,143 274,218" fill="#a5b0a4" opacity="0.75"/>
<polygon points="251,247 390,263 590,208 385,172 249,201" fill="#46544a"/>
<polygon points="256,244 389,257 580,208 385,178 254,204" fill="#5a695d"/>
<polygon points="265,230 388,232 562,209 387,203 265,216" fill="#96687c" opacity="0.62"/>
<polygon points="271,254 389,251 545,210 389,240 271,249" fill="#909a90" opacity="0.75"/>
<polygon points="235,255 335,341 524,400 382,262 259,216" fill="#46544a"/>
<polygon points="241,255 338,336 515,395 379,267 262,221" fill="#6b7d6e"/>
<polygon points="256,249 351,314 501,386 366,289 264,237" fill="#a07587" opacity="0.62"/>
<polygon points="248,272 341,331 487,378 346,321 251,268" fill="#9aa699" opacity="0.75"/>
<polygon points="225,253 292,384 445,537 356,340 257,230" fill="#46544a"/>
<polygon points="231,255 297,380 439,529 351,343 258,236" fill="#778678"/>
<polygon points="245,257 314,368 429,514 334,355 255,250" fill="#8a6072" opacity="0.62"/>
<polygon points="231,273 301,378 418,498 308,372 235,270" fill="#a5b0a4" opacity="0.75"/>
<polygon points="210,245 187,363 222,544 266,365 249,245" fill="#46544a"/>
<polygon points="213,250 193,363 222,534 260,365 246,250" fill="#5f7063"/>
<polygon points="223,260 215,364 223,519 238,364 235,260" fill="#a98292" opacity="0.62"/>
<polygon points="203,264 198,363 223,503 207,364 207,264" fill="#909a90" opacity="0.75"/>
<polygon points="201,228 110,310 30,480 175,362 234,254" fill="#46544a"/>
<polygon points="200,234 114,314 36,472 171,358 229,256" fill="#7f8d80"/>
<polygon points="203,249 132,328 45,460 153,344 213,257" fill="#916a7b" opacity="0.62"/>
<polygon points="183,239 118,317 55,448 126,323 187,242" fill="#9aa699" opacity="0.75"/>
<polygon points="203,214 77,246 -81,361 111,322 220,252" fill="#46544a"/>
<polygon points="200,219 80,252 -72,357 108,317 214,251" fill="#6f7e70"/>
<polygon points="195,233 89,273 -57,350 99,296 200,245" fill="#96687c" opacity="0.62"/>
<polygon points="182,215 82,256 -42,344 86,266 184,220" fill="#a5b0a4" opacity="0.75"/>
<polygon points="209,208 90,198 -84,249 96,273 212,245" fill="#46544a"/>
<polygon points="204,211 91,203 -74,248 96,267 206,243" fill="#5a695d"/>
<polygon points="195,222 92,224 -59,247 94,247 196,233" fill="#a07587" opacity="0.62"/>
<polygon points="188,203 91,208 -43,246 92,217 189,207" fill="#909a90" opacity="0.75"/>
<polygon points="226,194 127,105 -63,44 77,186 200,235" fill="#3f4d43"/>
<polygon points="220,194 124,110 -54,49 80,181 198,230" fill="#7f8d80"/>
<polygon points="204,200 110,133 -40,58 94,159 196,213" fill="#a98292" opacity="0.62"/>
<polygon points="213,176 121,115 -26,66 115,125 210,181" fill="#9aa699" opacity="0.75"/>
<polygon points="242,196 203,69 72,-83 119,112 200,218" fill="#3f4d43"/>
<polygon points="237,193 198,71 77,-74 124,109 200,212" fill="#6f7e70"/>
<polygon points="221,190 174,84 84,-59 148,97 207,197" fill="#916a7b" opacity="0.62"/>
<polygon points="241,174 193,74 92,-44 182,79 236,177" fill="#a5b0a4" opacity="0.75"/>
<polygon points="256,208 299,73 281,-137 206,60 210,202" fill="#3f4d43"/>
<polygon points="254,203 293,72 279,-128 212,61 213,197" fill="#5a695d"/>
<polygon points="242,191 267,68 277,-110 238,64 228,189" fill="#96687c" opacity="0.62"/>
<polygon points="268,190 287,71 274,-92 276,70 262,189" fill="#909a90" opacity="0.75"/>
<polygon points="264,226 369,139 450,-50 284,71 221,192" fill="#3f4d43"/>
<polygon points="265,221 364,135 444,-42 288,75 227,190" fill="#6b7d6e"/>
<polygon points="259,203 340,116 433,-28 313,94 245,192" fill="#a07587" opacity="0.62"/>
<polygon points="285,218 359,131 423,-15 348,123 280,214" fill="#9aa699" opacity="0.75"/>
<polygon points="257,246 385,239 551,135 355,132 242,193" fill="#3f4d43"/>
<polygon points="261,242 383,234 541,138 356,138 247,194" fill="#778678"/>
<polygon points="266,224 375,203 525,142 365,168 261,207" fill="#8a6072" opacity="0.62"/>
<polygon points="279,252 382,227 510,146 378,213 277,245" fill="#a5b0a4" opacity="0.75"/>
<polygon points="244,255 367,306 567,292 387,202 255,203" fill="#3f4d43"/>
<polygon points="250,253 368,300 557,290 386,208 259,207" fill="#5f7063"/>
<polygon points="263,240 374,271 541,286 380,237 266,223" fill="#a98292" opacity="0.62"/>
<polygon points="262,269 369,294 524,283 372,281 263,263" fill="#909a90" opacity="0.75"/>
<polygon points="230,255 315,359 491,456 374,293 260,222" fill="#3f4d43"/>
<polygon points="236,256 319,355 484,450 370,297 261,227" fill="#7f8d80"/>
<polygon points="252,253 335,337 471,439 353,316 261,243" fill="#916a7b" opacity="0.62"/>
<polygon points="240,274 322,351 459,427 329,343 243,270" fill="#9aa699" opacity="0.75"/>
<polygon points="209,249 209,394 296,590 309,376 259,240" fill="#3f4d43"/>
<polygon points="212,254 215,393 295,580 303,377 257,246" fill="#6f7e70"/>
<polygon points="228,261 243,388 291,563 275,382 244,258" fill="#96687c" opacity="0.62"/>
<polygon points="202,271 221,392 288,545 234,390 208,270" fill="#a5b0a4" opacity="0.75"/>
<polygon points="198,233 123,338 95,532 219,380 246,254" fill="#3f4d43"/>
<polygon points="199,239 129,340 99,523 213,378 241,257" fill="#5a695d"/>
<polygon points="208,254 156,352 106,508 186,366 224,260" fill="#a07587" opacity="0.62"/>
<polygon points="180,247 135,343 112,493 146,348 186,249" fill="#909a90" opacity="0.75"/>
<polygon points="199,218 78,285 -47,450 140,362 230,257" fill="#3f4d43"/>
<polygon points="197,224 82,289 -39,443 136,357 224,258" fill="#6b7d6e"/>
<polygon points="198,241 99,311 -26,432 119,335 208,253" fill="#8a6072" opacity="0.62"/>
<polygon points="177,224 85,294 -12,421 93,304 181,228" fill="#9aa699" opacity="0.75"/>
<polygon points="207,203 55,201 -151,283 70,299 214,253" fill="#3f4d43"/>
<polygon points="202,207 56,207 -141,281 69,293 209,250" fill="#778678"/>
<polygon points="194,222 61,235 -123,278 65,266 197,238" fill="#a98292" opacity="0.62"/>
<polygon points="185,197 57,213 -104,276 59,225 186,203" fill="#a5b0a4" opacity="0.75"/>
<polygon points="212,198 96,164 -84,205 90,269 208,250" fill="#3f4d43"/>
<polygon points="207,200 96,170 -74,206 90,263 204,247" fill="#5f7063"/>
<polygon points="196,214 94,200 -59,207 92,233 195,231" fill="#916a7b" opacity="0.62"/>
<polygon points="192,186 96,176 -44,208 95,189 192,192" fill="#909a90" opacity="0.75"/>
<polygon points="62,27 140,27 118,58 84,66" fill="#d09c74" opacity="0.9"/>
<polygon points="27,96 58,110 50,160 27,170" fill="#d09c74" opacity="0.9"/>
<polygon points="27,268 56,282 50,318 27,322" fill="#d09c74" opacity="0.9"/>
<polygon points="27,350 52,356 46,377 27,377" fill="#d09c74" opacity="0.9"/>
<polygon points="392,27 422,27 422,112 408,84" fill="#d09c74" opacity="0.9"/>
<polygon points="100,62 128,70 112,100 92,96" fill="#d09c74" opacity="0.9"/>
</g><g filter="url(#b3s)">
<polygon points="118,238 150,215 158,188 176,218 204,228 186,254 198,288 166,272 138,290 146,256" fill="#bcd2c8"/>
<polygon points="288,202 308,180 318,158 332,184 356,190 338,206 348,234 322,220 300,236 306,212" fill="#b6cec4"/>
<polygon points="228,26 242,58 272,36 264,76 306,66 278,100 306,118 266,126 274,154 232,140 192,156 198,126 156,118 186,100 160,68 198,76 190,38 216,60" fill="#b4cec3"/>
<polygon points="228,56 245,84 264,90 250,108 256,132 230,122 204,132 210,108 194,92 214,84" fill="#7f9f90"/>
<polygon points="228,84 238,100 250,104 240,114 242,128 228,122 214,128 217,114 206,104 219,100" fill="#c3d9cf"/>
<ellipse cx="228" cy="203" rx="62" ry="68" fill="#66564a"/>
<circle cx="216" cy="150" r="6.8" fill="#c0a066"/>
<circle cx="216" cy="151" r="2" fill="#5a3a2a"/>
<circle cx="235" cy="150" r="6.8" fill="#c0a066"/>
<circle cx="235" cy="151" r="2" fill="#5a3a2a"/>
<circle cx="254" cy="150" r="6.8" fill="#c0a066"/>
<circle cx="254" cy="151" r="2" fill="#5a3a2a"/>
<circle cx="206" cy="169" r="6.8" fill="#c0a066"/>
<circle cx="206" cy="170" r="2" fill="#5a3a2a"/>
<circle cx="225" cy="169" r="6.8" fill="#c0a066"/>
<circle cx="225" cy="170" r="2" fill="#5a3a2a"/>
<circle cx="244" cy="169" r="6.8" fill="#c0a066"/>
<circle cx="244" cy="170" r="2" fill="#5a3a2a"/>
<circle cx="263" cy="169" r="6.8" fill="#c0a066"/>
<circle cx="263" cy="170" r="2" fill="#5a3a2a"/>
<circle cx="197" cy="188" r="6.8" fill="#c0a066"/>
<circle cx="197" cy="189" r="2" fill="#5a3a2a"/>
<circle cx="216" cy="188" r="6.8" fill="#c0a066"/>
<circle cx="216" cy="189" r="2" fill="#5a3a2a"/>
<circle cx="235" cy="188" r="6.8" fill="#c0a066"/>
<circle cx="235" cy="189" r="2" fill="#5a3a2a"/>
<circle cx="254" cy="188" r="6.8" fill="#c0a066"/>
<circle cx="254" cy="189" r="2" fill="#5a3a2a"/>
<circle cx="273" cy="188" r="6.8" fill="#c0a066"/>
<circle cx="273" cy="189" r="2" fill="#5a3a2a"/>
<circle cx="187" cy="207" r="6.8" fill="#c0a066"/>
<circle cx="187" cy="208" r="2" fill="#5a3a2a"/>
<circle cx="206" cy="207" r="6.8" fill="#c0a066"/>
<circle cx="206" cy="208" r="2" fill="#5a3a2a"/>
<circle cx="225" cy="207" r="6.8" fill="#c0a066"/>
<circle cx="225" cy="208" r="2" fill="#5a3a2a"/>
<circle cx="244" cy="207" r="6.8" fill="#c0a066"/>
<circle cx="244" cy="208" r="2" fill="#5a3a2a"/>
<circle cx="263" cy="207" r="6.8" fill="#c0a066"/>
<circle cx="263" cy="208" r="2" fill="#5a3a2a"/>
<circle cx="282" cy="207" r="6.8" fill="#c0a066"/>
<circle cx="282" cy="208" r="2" fill="#5a3a2a"/>
<circle cx="197" cy="226" r="6.8" fill="#c0a066"/>
<circle cx="197" cy="227" r="2" fill="#5a3a2a"/>
<circle cx="216" cy="226" r="6.8" fill="#c0a066"/>
<circle cx="216" cy="227" r="2" fill="#5a3a2a"/>
<circle cx="235" cy="226" r="6.8" fill="#c0a066"/>
<circle cx="235" cy="227" r="2" fill="#5a3a2a"/>
<circle cx="254" cy="226" r="6.8" fill="#c0a066"/>
<circle cx="254" cy="227" r="2" fill="#5a3a2a"/>
<circle cx="273" cy="226" r="6.8" fill="#c0a066"/>
<circle cx="273" cy="227" r="2" fill="#5a3a2a"/>
<circle cx="206" cy="245" r="6.8" fill="#c0a066"/>
<circle cx="206" cy="246" r="2" fill="#5a3a2a"/>
<circle cx="225" cy="245" r="6.8" fill="#c0a066"/>
<circle cx="225" cy="246" r="2" fill="#5a3a2a"/>
<circle cx="244" cy="245" r="6.8" fill="#c0a066"/>
<circle cx="244" cy="246" r="2" fill="#5a3a2a"/>
<circle cx="263" cy="245" r="6.8" fill="#c0a066"/>
<circle cx="263" cy="246" r="2" fill="#5a3a2a"/>
<circle cx="216" cy="264" r="6.8" fill="#c0a066"/>
<circle cx="216" cy="265" r="2" fill="#5a3a2a"/>
<circle cx="235" cy="264" r="6.8" fill="#c0a066"/>
<circle cx="235" cy="265" r="2" fill="#5a3a2a"/>
</g><rect x="27" y="25" width="395" height="352" filter="url(#nzd)" opacity="0.4"/><rect x="27" y="25" width="395" height="352" filter="url(#nzl)" opacity="0.28"/></svg>
</g>
<g id="panel-e">
<text x="-0.5" y="329" font-size="14" font-weight="bold" fill="#000">e</text>
<g fill="none" stroke="#111" stroke-width="1.1" stroke-linejoin="miter">
<path d="M205.6 395.2H19.3V348.2H81.2"/>
<path d="M205.6 375H81.2V340.3H142.9"/>
<path d="M205.6 328.3H142.9V352.3H205.6"/>
</g>
<ellipse cx="19.3" cy="368.4" rx="2.0" ry="3.0" fill="#939393" stroke="#111" stroke-width="0.9"/>
<ellipse cx="81.2" cy="348.2" rx="2.0" ry="3.0" fill="#939393" stroke="#111" stroke-width="0.9"/>
<ellipse cx="142.9" cy="340.3" rx="2.0" ry="3.0" fill="#939393" stroke="#111" stroke-width="0.9"/>
<text x="210.3" y="332.0" font-size="9.2" fill="#8c8c8c" textLength="12.2" lengthAdjust="spacingAndGlyphs">Acb</text>
<text x="210.3" y="356.0" font-size="9.2" fill="#8c8c8c" textLength="12.2" lengthAdjust="spacingAndGlyphs">Acc</text>
<text x="210.3" y="378.7" font-size="9.2" fill="#8c8c8c" textLength="11.2" lengthAdjust="spacingAndGlyphs">Afa</text>
<text x="210.3" y="398.9" font-size="9.2" fill="#8c8c8c" textLength="12.2" lengthAdjust="spacingAndGlyphs">Ozy</text>
<text x="229.0" y="332.4" font-size="9.2" fill="#2b2b8f" stroke="#2b2b8f" stroke-width="0.3" textLength="38.3" lengthAdjust="spacingAndGlyphs">+2733/-3204</text>
<text x="229.0" y="356.4" font-size="9.2" fill="#2b2b8f" stroke="#2b2b8f" stroke-width="0.3" textLength="37.8" lengthAdjust="spacingAndGlyphs">+1143/-1067</text>
<text x="229.0" y="379.0" font-size="9.2" fill="#2b2b8f" stroke="#2b2b8f" stroke-width="0.3" textLength="34.5" lengthAdjust="spacingAndGlyphs">+514/-2090</text>
<text x="38.6" y="357.4" font-size="7.6" fill="#8e8e8e" textLength="18.1" lengthAdjust="spacingAndGlyphs">98.157</text>
<text x="133.4" y="383.8" font-size="7.6" fill="#8e8e8e" textLength="14.6" lengthAdjust="spacingAndGlyphs">5.843</text>
<text x="106.5" y="404.6" font-size="7.6" fill="#8e8e8e" textLength="9.0" lengthAdjust="spacingAndGlyphs">104</text>
<circle cx="103.6" cy="344.7" r="0.8" fill="#8e8e8e"/>
<circle cx="171.0" cy="334.5" r="0.8" fill="#8e8e8e"/>
<circle cx="171.0" cy="356.3" r="0.8" fill="#8e8e8e"/>
</g>
<g id="panel-f">
<text x="293.5" y="235.5" font-size="14" font-weight="bold" fill="#000">f</text>
<rect x="283.3" y="273.30" width="395.0" height="14.77" fill="#d5e0ee"/>
<rect x="283.3" y="302.84" width="395.0" height="14.77" fill="#d5e0ee"/>
<rect x="283.3" y="332.39" width="395.0" height="14.77" fill="#d5e0ee"/>
<rect x="283.3" y="361.93" width="395.0" height="14.77" fill="#d5e0ee"/>
<line x1="283.3" x2="678.3" y1="257.30" y2="257.30" stroke="#4f81bd" stroke-width="1.1"/>
<line x1="283.3" x2="678.3" y1="273.30" y2="273.30" stroke="#4f81bd" stroke-width="1.1"/>
<line x1="283.3" x2="678.3" y1="376.70" y2="376.70" stroke="#4f81bd" stroke-width="1.1"/>
<text x="289.0" y="269.40" font-size="10.4" fill="#1f477b" font-weight="bold" textLength="56.5" lengthAdjust="spacingAndGlyphs">Gene family</text>
<text x="602.3" y="269.40" font-size="10.4" fill="#1f477b" font-weight="bold" textLength="16.2" lengthAdjust="spacingAndGlyphs">Acc</text>
<text x="629.3" y="269.40" font-size="10.4" fill="#1f477b" font-weight="bold" textLength="16.8" lengthAdjust="spacingAndGlyphs">Acb</text>
<text x="656.7" y="269.40" font-size="10.4" fill="#1f477b" font-weight="bold" textLength="15.6" lengthAdjust="spacingAndGlyphs">Afa</text>
<text x="289.0" y="284.70" font-size="10.4" fill="#1f477b" font-weight="bold" font-style="italic" textLength="79.5" lengthAdjust="spacingAndGlyphs">Ricesleeper2-like</text>
<text x="602.3" y="284.70" font-size="10.2" fill="#1f477b"  textLength="5.5" lengthAdjust="spacingAndGlyphs">8</text>
<text x="629.3" y="284.70" font-size="10.2" fill="#1f477b"  textLength="5.5" lengthAdjust="spacingAndGlyphs">7</text>
<text x="656.7" y="284.70" font-size="10.2" fill="#1f477b"  textLength="11.0" lengthAdjust="spacingAndGlyphs">15</text>
<text x="289.0" y="299.47" font-size="10.4" fill="#1f477b" font-weight="bold" font-style="italic" textLength="115.7" lengthAdjust="spacingAndGlyphs">Terpene synthase 10-like</text>
<text x="602.3" y="299.47" font-size="10.2" fill="#1f477b"  textLength="5.5" lengthAdjust="spacingAndGlyphs">5</text>
<text x="629.3" y="299.47" font-size="10.2" fill="#1f477b"  textLength="5.5" lengthAdjust="spacingAndGlyphs">7</text>
<text x="656.7" y="299.47" font-size="10.2" fill="#1f477b"  textLength="11.0" lengthAdjust="spacingAndGlyphs">12</text>
<text x="289.0" y="314.24" font-size="10.4" fill="#1f477b" font-weight="bold" font-style="italic" textLength="109.3" lengthAdjust="spacingAndGlyphs">Zinc transporter 10-like</text>
<text x="602.3" y="314.24" font-size="10.2" fill="#1f477b"  textLength="5.5" lengthAdjust="spacingAndGlyphs">7</text>
<text x="629.3" y="314.24" font-size="10.2" fill="#1f477b"  textLength="11.0" lengthAdjust="spacingAndGlyphs">10</text>
<text x="656.7" y="314.24" font-size="10.2" fill="#1f477b"  textLength="5.5" lengthAdjust="spacingAndGlyphs">2</text>
<text x="289.0" y="329.01" font-size="10.4" fill="#1f477b" font-weight="bold" font-style="italic" textLength="190.5" lengthAdjust="spacingAndGlyphs">Stem bromelain-like; fruit bromelain-like</text>
<text x="602.3" y="329.01" font-size="10.2" fill="#1f477b"  textLength="11.0" lengthAdjust="spacingAndGlyphs">19</text>
<text x="629.3" y="329.01" font-size="10.2" fill="#1f477b"  textLength="11.0" lengthAdjust="spacingAndGlyphs">23</text>
<text x="656.7" y="329.01" font-size="10.2" fill="#1f477b"  textLength="5.5" lengthAdjust="spacingAndGlyphs">3</text>
<text x="289.0" y="343.79" font-size="10.4" fill="#1f477b" font-weight="bold" font-style="italic" textLength="302.0" lengthAdjust="spacingAndGlyphs">Serine/threonine-protein phosphatase 7 long form homolog-like</text>
<text x="602.3" y="343.79" font-size="10.2" fill="#1f477b"  textLength="11.0" lengthAdjust="spacingAndGlyphs">30</text>
<text x="629.3" y="343.79" font-size="10.2" fill="#1f477b"  textLength="5.5" lengthAdjust="spacingAndGlyphs">0</text>
<text x="656.7" y="343.79" font-size="10.2" fill="#1f477b"  textLength="5.5" lengthAdjust="spacingAndGlyphs">1</text>
<text x="289.0" y="358.56" font-size="10.4" fill="#1f477b" font-weight="bold" font-style="italic" textLength="177.5" lengthAdjust="spacingAndGlyphs">Receptor kinase-like protein Xa21-like</text>
<text x="602.3" y="358.56" font-size="10.2" fill="#1f477b"  textLength="11.0" lengthAdjust="spacingAndGlyphs">25</text>
<text x="629.3" y="358.56" font-size="10.2" fill="#1f477b"  textLength="11.0" lengthAdjust="spacingAndGlyphs">19</text>
<text x="656.7" y="358.56" font-size="10.2" fill="#1f477b"  textLength="5.5" lengthAdjust="spacingAndGlyphs">8</text>
<text x="289.0" y="373.33" font-size="10.4" fill="#1f477b" font-weight="bold" font-style="italic" textLength="91.0" lengthAdjust="spacingAndGlyphs">Germin-like protein</text>
<text x="602.3" y="373.33" font-size="10.2" fill="#1f477b"  textLength="11.0" lengthAdjust="spacingAndGlyphs">46</text>
<text x="629.3" y="373.33" font-size="10.2" fill="#1f477b"  textLength="11.0" lengthAdjust="spacingAndGlyphs">37</text>
<text x="656.7" y="373.33" font-size="10.2" fill="#1f477b"  textLength="11.0" lengthAdjust="spacingAndGlyphs">10</text>
</g>
</svg></body></html>
